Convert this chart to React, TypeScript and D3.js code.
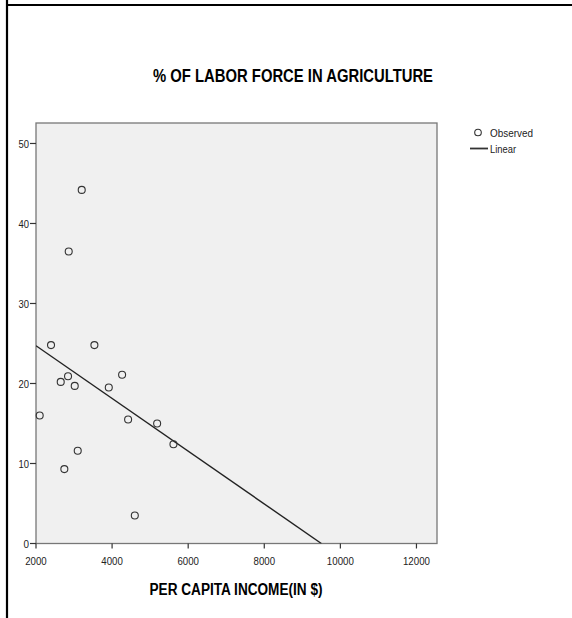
import React from "react";
import * as d3 from "d3";

const incomes = [2395, 3535, 2650, 2842, 3018, 2097, 3913, 4263, 4421, 5184, 5613, 3097, 2745, 4597, 3202, 2860];
const laborPct = [24.8, 24.8, 20.2, 20.9, 19.7, 16.0, 19.5, 21.1, 15.5, 15.0, 12.4, 11.6, 9.3, 3.5, 44.2, 36.5];
const xTicks = [2000, 4000, 6000, 8000, 10000, 12000];
const yTicks = [0, 10, 20, 30, 40, 50];
const title = "% OF LABOR FORCE IN AGRICULTURE";
const xTitle = "PER CAPITA INCOME(IN $)";
const legendLabels = ["Observed", "Linear"];

const W = 572, H = 618;
const left = 36, right = 437, top = 123, bottom = 543.5;
const font = "'Liberation Sans', Arial, sans-serif";

export default function App() {
  const x = d3.scaleLinear().domain([2000, 12540]).range([left, right]);
  const y = d3.scaleLinear().domain([0, 52.56]).range([bottom, top]);

  const mx = d3.mean(incomes)!;
  const my = d3.mean(laborPct)!;
  let sxy = 0, sxx = 0;
  incomes.forEach((v, i) => { sxy += (v - mx) * (laborPct[i] - my); sxx += (v - mx) * (v - mx); });
  const slope = sxy / sxx;
  const intercept = my - slope * mx;
  const x0 = 2000;
  const xZero = -intercept / slope;
  const x1 = Math.min(xZero, 12540);
  const line = d3.line<number>().x((d) => x(d)).y((d) => y(intercept + slope * d));

  return (
    <svg width={W} height={H} style={{ position: "absolute", left: 0, top: 0, background: "#fff" }} fontFamily={font}>
      <line x1={7} y1={0} x2={7} y2={H} stroke="#000" strokeWidth={2.2} />
      <line x1={6} y1={5} x2={W} y2={5} stroke="#000" strokeWidth={2.2} />
      <text x={293} y={81.5} textAnchor="middle" fontSize={18} fontWeight="bold" textLength={280} lengthAdjust="spacingAndGlyphs">{title}</text>

      <rect x={left} y={top} width={right - left} height={bottom - top} fill="#f0f0f0" stroke="#777" strokeWidth={1.3} />
      <defs>
        <clipPath id="plotclip"><rect x={left} y={top} width={right - left} height={bottom - top} /></clipPath>
      </defs>
      <path d={line([x0, x1]) || ""} stroke="#222" strokeWidth={1.4} fill="none" clipPath="url(#plotclip)" />
      {incomes.map((v, i) => (
        <circle key={i} cx={x(v)} cy={y(laborPct[i])} r={3.5} fill="none" stroke="#333" strokeWidth={1.1} />
      ))}

      {yTicks.map((t) => (
        <g key={t}>
          <line x1={left - 6} x2={left} y1={y(t)} y2={y(t)} stroke="#333" strokeWidth={1.2} />
          <text x={left - 7} y={y(t) + 4.5} textAnchor="end" fontSize={11.5} fill="#222" textLength={t === 0 ? 5.5 : 10.5} lengthAdjust="spacingAndGlyphs">{t}</text>
        </g>
      ))}
      {xTicks.map((t) => (
        <g key={t}>
          <line x1={x(t)} x2={x(t)} y1={bottom} y2={bottom + 5} stroke="#333" strokeWidth={1.2} />
          <text x={x(t)} y={bottom + 21.5} textAnchor="middle" fontSize={11.5} fill="#222" textLength={t >= 10000 ? 27 : 21.5} lengthAdjust="spacingAndGlyphs">{t}</text>
        </g>
      ))}
      <text x={236} y={595} textAnchor="middle" fontSize={16} fontWeight="bold" textLength={173} lengthAdjust="spacingAndGlyphs">{xTitle}</text>

      <circle cx={478} cy={132.5} r={3.3} fill="none" stroke="#333" strokeWidth={1.1} />
      <text x={490} y={137} fontSize={11.5} fill="#222" textLength={43} lengthAdjust="spacingAndGlyphs">{legendLabels[0]}</text>
      <line x1={470} x2={488} y1={148.5} y2={148.5} stroke="#333" strokeWidth={1.8} />
      <text x={490} y={153} fontSize={11.5} fill="#222" textLength={26} lengthAdjust="spacingAndGlyphs">{legendLabels[1]}</text>
    </svg>
  );
}
